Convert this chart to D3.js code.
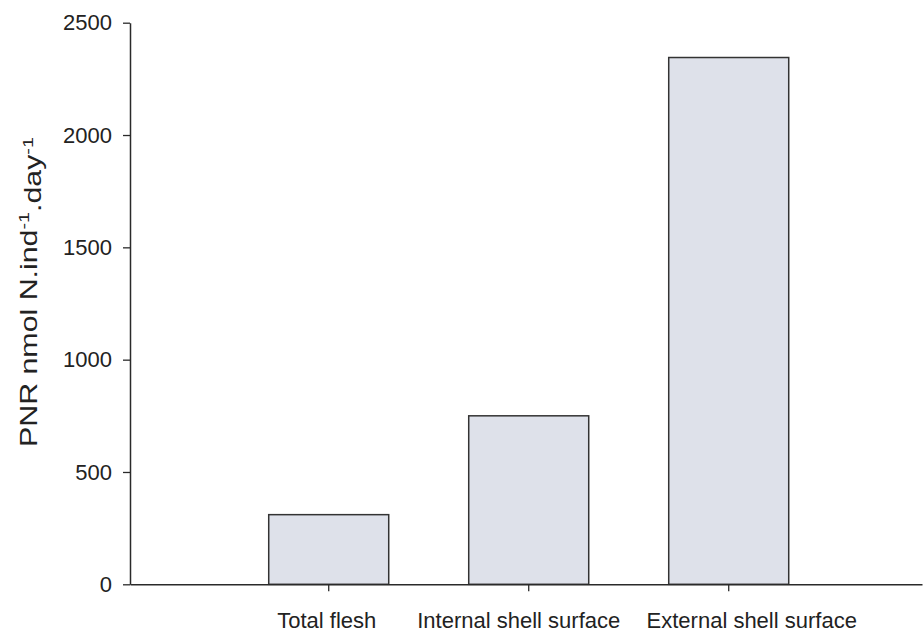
<!DOCTYPE html>
<html>
<head>
<meta charset="utf-8">
<script src="https://cdn.jsdelivr.net/npm/d3@7"></script>
<style>
  html, body { margin: 0; padding: 0; background: #fff; }
  svg { display: block; font-family: "Liberation Sans", Arial, sans-serif; }
</style>
</head>
<body>
<svg id="chart" width="923" height="632"></svg>
<script>
const categories = ["Total flesh", "Internal shell surface", "External shell surface"];
const values = [310, 750, 2345];
const yTicks = [0, 500, 1000, 1500, 2000, 2500];

(function () {
const svg = d3.select("#chart");
const mLeft = 130, mRight = 922, mTop = 22.7, mBottom = 584.3;
// horizontal nudges of category labels (layout, as in the original figure)
const labelShift = [-2, -10, 23];

const x = d3.scaleBand()
  .domain(categories)
  .range([mLeft, mRight])
  .paddingInner(0.4)
  .paddingOuter(0.68)
  .align(0.51);

const y = d3.scaleLinear().domain([0, 2500]).range([mBottom, mTop]);

const ink = "#2a2a2a";

// bars
svg.append("g").selectAll("rect")
  .data(values)
  .join("rect")
  .attr("x", (d, i) => x(categories[i]))
  .attr("y", d => y(d))
  .attr("width", x.bandwidth())
  .attr("height", d => y(0) - y(d))
  .attr("fill", "#dee1ea")
  .attr("stroke", "#333")
  .attr("stroke-width", 1.5);

// y axis
const yAxis = svg.append("g")
  .attr("transform", `translate(${mLeft},0)`)
  .call(d3.axisLeft(y).tickValues(yTicks).tickFormat(d3.format("d")).tickSize(7).tickSizeOuter(0).tickPadding(11));
yAxis.select(".domain").attr("stroke", ink).attr("stroke-width", 1.5);
yAxis.selectAll(".tick line").attr("stroke", ink).attr("stroke-width", 1.3);
yAxis.selectAll(".tick text").attr("fill", "#222").style("font-size", "22px");

// x axis
const xAxis = svg.append("g")
  .attr("transform", `translate(0,${mBottom})`)
  .call(d3.axisBottom(x).tickSize(7).tickSizeOuter(0).tickPadding(21));
xAxis.select(".domain").attr("stroke", ink).attr("stroke-width", 1.5);
xAxis.selectAll(".tick line").attr("stroke", ink).attr("stroke-width", 1.3);
xAxis.selectAll(".tick text")
  .attr("fill", "#222")
  .style("font-size", "22px")
  .attr("x", (d, i) => labelShift[i]);

// y title
const tg = svg.append("g").attr("transform", "translate(37,292) rotate(-90)");
const tt = tg.append("text")
  .attr("text-anchor", "middle")
  .attr("fill", "#222")
  .style("font-size", "23px");
tt.append("tspan").text("PNR nmol N.ind");
tt.append("tspan").attr("dy", "-0.55em").style("font-size", "15px").text("-1");
tt.append("tspan").attr("dy", "0.55em").text(".day");
tt.append("tspan").attr("dy", "-0.55em").style("font-size", "15px").text("-1");
const len = tt.node().getComputedTextLength();
const sx = 310 / len;
tg.attr("transform", `translate(37,292) rotate(-90) scale(${sx},1)`);
})();
</script>
</body>
</html>
